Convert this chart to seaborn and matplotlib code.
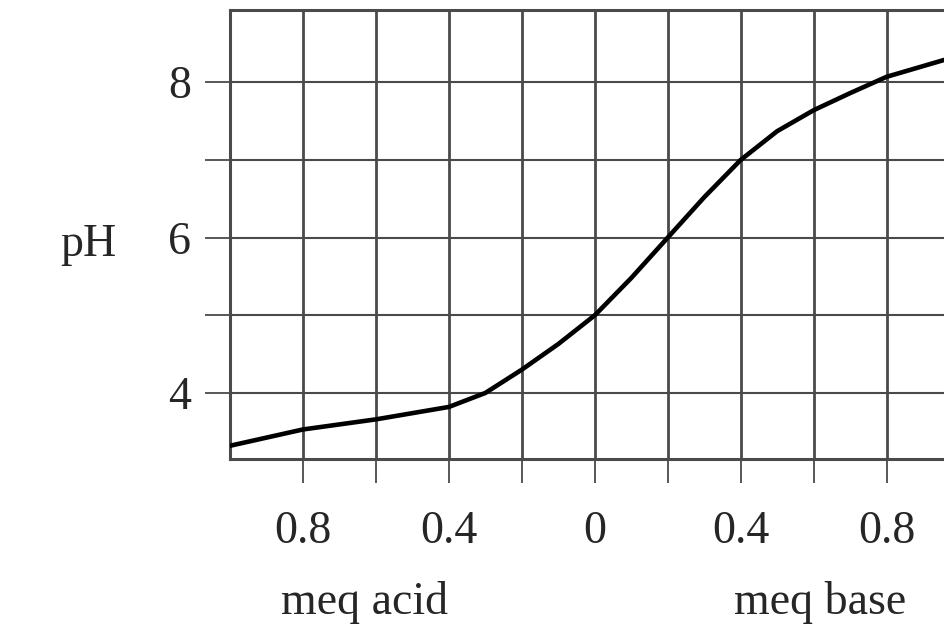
import numpy as np
import pandas as pd
import seaborn as sns
import matplotlib.pyplot as plt

# titration curve (negative x = meq acid added)
meq = [-1.0, -0.8, -0.6, -0.4, -0.3, -0.2, -0.1, 0.0, 0.1, 0.2, 0.3, 0.4, 0.5, 0.6, 0.7, 0.8, 0.96]
ph = [3.32, 3.53, 3.66, 3.82, 4.0, 4.3, 4.63, 5.0, 5.48, 6.0, 6.52, 7.0, 7.37, 7.64, 7.86, 8.07, 8.29]

x_ticks = [-0.8, -0.6, -0.4, -0.2, 0.0, 0.2, 0.4, 0.6, 0.8]
x_labels = ["0.8", "", "0.4", "", "0", "", "0.4", "", "0.8"]
y_ticks = [4, 5, 6, 7, 8]
y_labels = ["4", "", "6", "", "8"]

df = pd.DataFrame({"meq": meq, "pH": ph})

sns.set_style("white")
plt.rcParams['font.family'] = ['Liberation Serif', 'DejaVu Serif']

fig = plt.figure(figsize=(9.45, 6.44), dpi=100)
ax = fig.add_axes([0.2434, 0.2873, 0.7566, 0.6972])

grid_c = "#4a4a4a"
# grid lines
for xv in x_ticks:
    ax.axvline(xv, color=grid_c, lw=2.0, zorder=1)
for yv in y_ticks:
    ax.axhline(yv, color=grid_c, lw=1.5, zorder=1)

sns.lineplot(data=df, x="meq", y="pH", color="black", lw=3.3, ax=ax, zorder=3)

ax.set_xlim(-1.0, 0.96)
ax.set_ylim(3.15, 8.93)

ax.set_xticks(x_ticks)
ax.set_xticklabels(x_labels)
ax.set_yticks(y_ticks)
ax.set_yticklabels(y_labels)
ax.tick_params(axis="x", direction="out", length=17, width=1.3, color=grid_c,
               pad=20, labelsize=33, bottom=True)
ax.tick_params(axis="y", direction="out", length=18, width=1.3, color=grid_c,
               pad=10, labelsize=33, left=True)
ax.set_xlabel("")
ax.set_ylabel("")

for side in ["left", "top", "bottom"]:
    ax.spines[side].set_visible(True)
    ax.spines[side].set_color(grid_c)
    ax.spines[side].set_linewidth(2.2)
ax.spines["right"].set_visible(False)

fig.text(88 / 945, 1 - 245 / 644, "pH", fontsize=33, ha="center", va="center")
fig.text(365 / 945, 1 - 603 / 644, "meq acid", fontsize=33, ha="center", va="center")
fig.text(820 / 945, 1 - 603 / 644, "meq base", fontsize=33, ha="center", va="center")

plt.savefig("out.png", dpi=100)
